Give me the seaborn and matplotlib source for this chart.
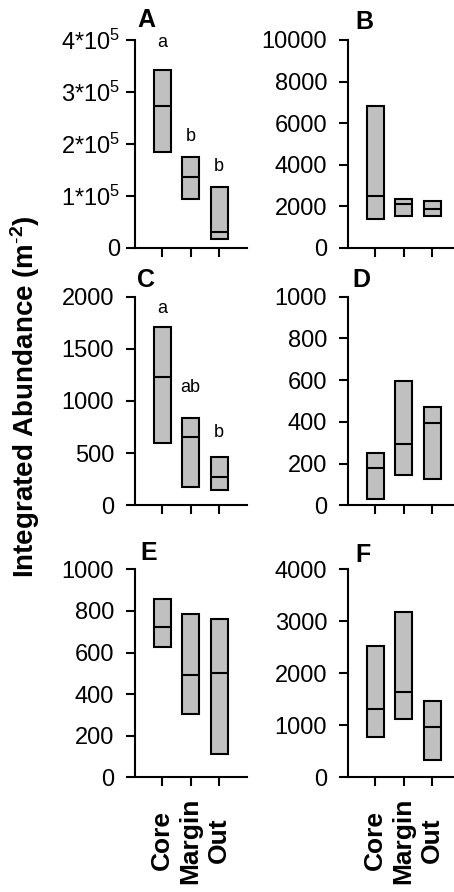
import numpy as np
import matplotlib
matplotlib.use("Agg")
import matplotlib.pyplot as plt
import seaborn as sns

# ---------------- data ----------------
sites = ["Core", "Margin", "Out"]

a_low = [1.85e5, 0.95e5, 0.17e5]
a_med = [2.74e5, 1.36e5, 0.30e5]
a_high = [3.42e5, 1.75e5, 1.17e5]
a_letters = ["a", "b", "b"]
a_letter_y = [3.96e5, 2.15e5, 1.56e5]

b_low = [1410, 1550, 1550]
b_med = [2490, 2120, 1890]
b_high = [6820, 2360, 2250]

c_low = [598, 178, 146]
c_med = [1226, 650, 273]
c_high = [1707, 837, 464]
c_letters = ["a", "ab", "b"]
c_letter_y = [1888, 1133, 694]

d_low = [30, 147, 128]
d_med = [177, 292, 396]
d_high = [249, 596, 470]

e_low = [628, 303, 111]
e_med = [721, 493, 501]
e_high = [859, 787, 761]

f_low = [769, 1115, 338]
f_med = [1308, 1635, 973]
f_high = [2531, 3179, 1462]

a_ticks = [0, 1e5, 2e5, 3e5, 4e5]
a_ticklabels = ["0", r"1*10$^{5}$", r"2*10$^{5}$", r"3*10$^{5}$", r"4*10$^{5}$"]
b_ticks = [0, 2000, 4000, 6000, 8000, 10000]
c_ticks = [0, 500, 1000, 1500, 2000]
d_ticks = [0, 200, 400, 600, 800, 1000]
e_ticks = [0, 200, 400, 600, 800, 1000]
f_ticks = [0, 1000, 2000, 3000, 4000]

panel_names = ["A", "B", "C", "D", "E", "F"]
ylabel = r"Integrated Abundance (m$^{\mathbf{\text{-}2}}$)"

# ---------------- style ----------------
sns.set_theme(style="ticks")
plt.rcParams["font.family"] = ["Liberation Sans", "DejaVu Sans"]
plt.rcParams["mathtext.fontset"] = "custom"
plt.rcParams["mathtext.rm"] = "Liberation Sans"
plt.rcParams["mathtext.it"] = "Liberation Sans:italic"
plt.rcParams["mathtext.bf"] = "Liberation Sans:bold"
plt.rcParams["axes.linewidth"] = 1.5
for key in ["text.color", "axes.labelcolor", "xtick.color", "ytick.color",
            "axes.edgecolor", "xtick.labelcolor", "ytick.labelcolor"]:
    plt.rcParams[key] = "black"

W, H = 454, 892
fig = plt.figure(figsize=(W / 100, H / 100), dpi=100)

BOX = "#c0c0c0"
LW = 1.5


def px_axes(left, top, right, bottom):
    return fig.add_axes([left / W, 1 - bottom / H, (right - left) / W, (bottom - top) / H])


def draw(ax, low, med, high, ticks, ticklabels=None, letters=None, letter_y=None,
         ytick_pad=8.5, bottom_row=False):
    low = np.asarray(low, float)
    high = np.asarray(high, float)
    sns.barplot(x=sites, y=high - low, bottom=low, ax=ax, color=BOX, saturation=1,
                edgecolor="black", linewidth=LW, width=0.6, errorbar=None)
    pos = np.arange(len(sites))
    ax.hlines(med, pos - 0.3, pos + 0.3, color="black", lw=LW, zorder=5)
    if letters is not None:
        for i, (t, yv) in enumerate(zip(letters, letter_y)):
            ax.text(i, yv, t, ha="center", va="center", fontsize=13, clip_on=False,
                    color="black")
    ax.set_ylim(ticks[0], ticks[-1])
    ax.set_yticks(ticks)
    if ticklabels is not None:
        ax.set_yticklabels(ticklabels)
    else:
        ax.set_yticklabels([str(int(t)) for t in ticks])
    ax.set_xlim(-0.95, 2.98)
    sns.despine(ax=ax)
    for s in ("left", "bottom"):
        ax.spines[s].set_color("black")
        ax.spines[s].set_linewidth(LW)
    ax.set_xlabel("")
    ax.set_ylabel("")
    ax.tick_params(axis="both", direction="out", length=6.5, width=LW, color="black",
                   labelcolor="black")
    ax.tick_params(axis="y", labelsize=17, pad=ytick_pad)
    ax.set_xticks(pos)
    if bottom_row:
        ax.set_xticklabels(sites, rotation=90, va="center", ha="center",
                           fontweight="bold", fontsize=19, color="black")
        ax.tick_params(axis="x", pad=39)
    else:
        ax.set_xticklabels([])


axA = px_axes(135, 40, 247, 248)
axB = px_axes(348, 40, 460, 248)
axC = px_axes(135, 296.5, 247, 505.3)
axD = px_axes(348, 296.5, 460, 505.3)
axE = px_axes(135, 569.3, 247, 777.3)
axF = px_axes(348, 569.3, 460, 777.3)

draw(axA, a_low, a_med, a_high, a_ticks, a_ticklabels, a_letters, a_letter_y, ytick_pad=4)
draw(axB, b_low, b_med, b_high, b_ticks)
draw(axC, c_low, c_med, c_high, c_ticks, None, c_letters, c_letter_y)
draw(axD, d_low, d_med, d_high, d_ticks)
draw(axE, e_low, e_med, e_high, e_ticks, bottom_row=True)
draw(axF, f_low, f_med, f_high, f_ticks, bottom_row=True)

label_pos = [(137, 20), (355, 22), (137, 280), (352, 280), (140, 553), (355, 555)]
for name, (x, y) in zip(panel_names, label_pos):
    fig.text(x / W, 1 - y / H, name, ha="left", va="center", fontsize=18,
             fontweight="bold", color="black")

fig.text(25 / W, 1 - 397 / H, ylabel, rotation=90, ha="center", va="center",
         fontsize=20, fontweight="bold", color="black")

fig.savefig("out.png", dpi=100)
